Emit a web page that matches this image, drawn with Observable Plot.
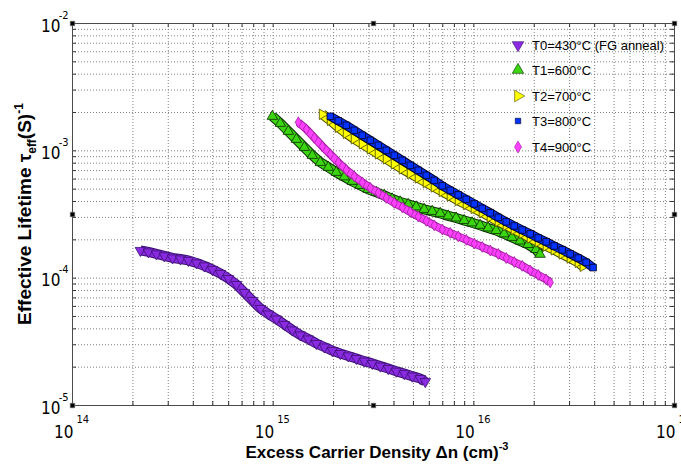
<!DOCTYPE html>
<html><head><meta charset="utf-8">
<script src="https://cdn.jsdelivr.net/npm/d3@7"></script>
<script src="https://cdn.jsdelivr.net/npm/@observablehq/plot@0.6"></script>
<style>
html,body{margin:0;padding:0;background:#fff;}
#chart{position:relative;width:681px;height:467px;overflow:hidden;}
</style></head><body><div id="chart"></div>
<script>
// ---- data ----
const seriesNames = ["T0=430°C (FG anneal)", "T1=600°C", "T2=700°C", "T3=800°C", "T4=900°C"];

const t0X = [2.18e14,2.39e14,2.62e14,2.87e14,3.15e14,3.45e14,3.78e14,4.15e14,4.54e14,4.98e14,5.46e14,5.98e14,6.56e14,7.19e14,7.88e14,8.64e14,9.47e14,1.038e15,1.137e15,1.246e15,1.366e15,1.497e15,1.641e15,1.799e15,1.971e15,2.161e15,2.368e15,2.596e15,2.846e15,3.119e15,3.419e15,3.747e15,4.107e15,4.502e15,4.934e15,5.408e15,5.73e15];
const t0Y = [1.651e-4,1.607e-4,1.550e-4,1.495e-4,1.441e-4,1.415e-4,1.378e-4,1.317e-4,1.247e-4,1.171e-4,1.089e-4,9.94e-5,8.92e-5,7.72e-5,6.68e-5,5.78e-5,5.23e-5,4.78e-5,4.33e-5,3.92e-5,3.58e-5,3.33e-5,3.07e-5,2.88e-5,2.70e-5,2.56e-5,2.45e-5,2.34e-5,2.23e-5,2.14e-5,2.04e-5,1.95e-5,1.86e-5,1.78e-5,1.70e-5,1.63e-5,1.54e-5];

const t1X = [9.91e14,1.086e15,1.190e15,1.305e15,1.430e15,1.567e15,1.718e15,1.883e15,2.063e15,2.262e15,2.479e15,2.717e15,2.978e15,3.264e15,3.577e15,3.920e15,4.297e15,4.709e15,5.161e15,5.657e15,6.200e15,6.795e15,7.447e15,8.162e15,8.945e15,9.804e15,1.0745e16,1.178e16,1.291e16,1.415e16,1.550e16,1.699e16,1.862e16,2.041e16,2.137e16];
const t1Y = [1.867e-3,1.645e-3,1.423e-3,1.231e-3,1.065e-3,9.22e-4,8.12e-4,7.42e-4,6.78e-4,6.25e-4,5.76e-4,5.36e-4,4.98e-4,4.72e-4,4.47e-4,4.19e-4,3.97e-4,3.80e-4,3.63e-4,3.47e-4,3.35e-4,3.23e-4,3.08e-4,2.97e-4,2.84e-4,2.72e-4,2.60e-4,2.48e-4,2.37e-4,2.23e-4,2.09e-4,1.96e-4,1.84e-4,1.68e-4,1.54e-4];

const t2X = [1.758e15,1.927e15,2.112e15,2.315e15,2.537e15,2.781e15,3.048e15,3.341e15,3.662e15,4.014e15,4.400e15,4.823e15,5.286e15,5.794e15,6.351e15,6.961e15,7.630e15,8.363e15,9.167e15,1.0048e16,1.1013e16,1.2072e16,1.3232e16,1.4503e16,1.5897e16,1.7425e16,1.910e16,2.0935e16,2.295e16,2.515e16,2.757e16,3.022e16,3.312e16,3.506e16];
const t2Y = [1.936e-3,1.737e-3,1.530e-3,1.373e-3,1.243e-3,1.135e-3,1.037e-3,9.47e-4,8.65e-4,7.90e-4,7.22e-4,6.65e-4,6.13e-4,5.65e-4,5.21e-4,4.80e-4,4.43e-4,4.08e-4,3.80e-4,3.53e-4,3.28e-4,3.03e-4,2.79e-4,2.60e-4,2.41e-4,2.25e-4,2.07e-4,1.93e-4,1.79e-4,1.67e-4,1.55e-4,1.44e-4,1.33e-4,1.24e-4];

const t3X = [1.927e15,2.112e15,2.315e15,2.537e15,2.781e15,3.048e15,3.341e15,3.662e15,4.014e15,4.400e15,4.823e15,5.286e15,5.794e15,6.351e15,6.961e15,7.630e15,8.363e15,9.167e15,1.0048e16,1.1013e16,1.2072e16,1.3232e16,1.4503e16,1.5897e16,1.7425e16,1.910e16,2.0935e16,2.295e16,2.515e16,2.757e16,3.022e16,3.312e16,3.631e16,3.932e16];
const t3Y = [1.867e-3,1.721e-3,1.586e-3,1.449e-3,1.324e-3,1.209e-3,1.105e-3,1.009e-3,9.22e-4,8.42e-4,7.69e-4,7.03e-4,6.42e-4,5.86e-4,5.31e-4,4.89e-4,4.51e-4,4.16e-4,3.83e-4,3.53e-4,3.26e-4,3.00e-4,2.77e-4,2.57e-4,2.39e-4,2.23e-4,2.07e-4,1.93e-4,1.79e-4,1.67e-4,1.55e-4,1.44e-4,1.33e-4,1.21e-4];

const t4X = [1.335e15,1.464e15,1.604e15,1.758e15,1.927e15,2.112e15,2.315e15,2.537e15,2.781e15,3.048e15,3.341e15,3.662e15,4.014e15,4.400e15,4.823e15,5.286e15,5.794e15,6.351e15,6.961e15,7.630e15,8.363e15,9.167e15,1.0048e16,1.1013e16,1.2072e16,1.3232e16,1.4503e16,1.5897e16,1.7425e16,1.910e16,2.0935e16,2.295e16,2.402e16];
const t4Y = [1.675e-3,1.476e-3,1.265e-3,1.085e-3,9.39e-4,8.12e-4,7.09e-4,6.30e-4,5.65e-4,5.12e-4,4.68e-4,4.27e-4,3.90e-4,3.60e-4,3.31e-4,3.05e-4,2.82e-4,2.60e-4,2.41e-4,2.27e-4,2.13e-4,2.00e-4,1.87e-4,1.76e-4,1.65e-4,1.55e-4,1.44e-4,1.34e-4,1.25e-4,1.15e-4,1.06e-4,9.77e-5,9.25e-5];

const xDomain = [1e14, 1e17];
const yDomain = [1e-5, 1e-2];
const xDecades = [1e14, 1e15, 1e16, 1e17];
const xExponents = ["14", "15", "16", "17"];
const yDecades = [1e-5, 1e-4, 1e-3, 1e-2];
const yExponents = ["-5", "-4", "-3", "-2"];
const xLabel = "Excess Carrier Density \u0394n (cm)";
const xLabelSup = "-3";
const yLabelMain = "Effective Lifetime \u03c4";
const yLabelSub = "eff";
const yLabelAfter = "(S)";
const yLabelSup = "-1";

// ---- styling ----
const W = 681, H = 467;
const M = {left: 72, right: 7, top: 23, bottom: 62};
const plotW = W - M.left - M.right, plotH = H - M.top - M.bottom;
const TICKFONT = "'Liberation Sans Narrow','Arial Narrow','DejaVu Sans Condensed',sans-serif";
const LABFONT = "'Liberation Sans',Arial,sans-serif";

const sqrt3 = Math.sqrt(3);
const triDown = {draw(c, size) { const y = -Math.sqrt(size / (sqrt3 * 3)); c.moveTo(0, -y * 2); c.lineTo(-sqrt3 * y, y); c.lineTo(sqrt3 * y, y); c.closePath(); }};
const triUp = {draw(c, size) { const y = -Math.sqrt(size / (sqrt3 * 3)); c.moveTo(0, y * 2); c.lineTo(-sqrt3 * y, -y); c.lineTo(sqrt3 * y, -y); c.closePath(); }};
const triRight = {draw(c, size) { const y = -Math.sqrt(size / (sqrt3 * 3)); c.moveTo(-y * 2, 0); c.lineTo(y, -sqrt3 * y); c.lineTo(y, sqrt3 * y); c.closePath(); }};

const styles = [
  {symbol: triDown, fill: "#8a2be2", stroke: "#3a1070", r: 3.9, band: 8},
  {symbol: triUp, fill: "#3cd610", stroke: "#0a2a00", r: 3.9, band: 8},
  {symbol: triRight, fill: "#ffff00", stroke: "#4a4a00", r: 3.9, band: 8},
  {symbol: "square", fill: "#0033ff", stroke: "#000020", r: 3.7, band: 7},
  {symbol: "diamond", fill: "#ff40ff", stroke: "#a020a0", r: 3.3, band: 6}
];
const seriesX = [t0X, t1X, t2X, t3X, t4X];
const seriesY = [t0Y, t1Y, t2Y, t3Y, t4Y];
const rows = seriesX.map((X, s) => X.map((x, i) => ({x, y: seriesY[s][i]})));

const xGrid = d3.scaleLog().domain(xDomain).ticks();
const yGrid = d3.scaleLog().domain(yDomain).ticks();

const gridStyle = {stroke: "#808080", strokeOpacity: 1, strokeDasharray: "1,2", strokeWidth: 1};
const tickStyle = {stroke: "#333", strokeWidth: 1};

const seriesMarks = rows.flatMap((data, s) => {
  const st = styles[s];
  return [
    Plot.line(data, {x: "x", y: "y", stroke: st.stroke, strokeWidth: st.band + 2, strokeLinecap: "butt", strokeLinejoin: "round"}),
    Plot.line(data, {x: "x", y: "y", stroke: st.fill, strokeWidth: st.band, strokeLinecap: "butt", strokeLinejoin: "round"}),
    Plot.dot(data, {x: "x", y: "y", symbol: st.symbol, r: st.r, fill: st.fill, stroke: st.stroke, strokeWidth: 0.8})
  ];
});

const plot = Plot.plot({
  width: W, height: H,
  marginLeft: M.left, marginRight: M.right, marginTop: M.top, marginBottom: M.bottom,
  style: {background: "#fff", overflow: "visible"},
  x: {type: "log", domain: xDomain, axis: null},
  y: {type: "log", domain: yDomain, axis: null},
  marks: [
    Plot.gridX(xGrid, gridStyle),
    Plot.gridY(yGrid, gridStyle),
    Plot.tickX(xGrid, {x: d => d, insetTop: plotH - 4, ...tickStyle}),
    Plot.tickX(xGrid, {x: d => d, insetBottom: plotH - 4, ...tickStyle}),
    Plot.tickY(yGrid, {y: d => d, insetRight: plotW - 4, ...tickStyle}),
    Plot.tickY(yGrid, {y: d => d, insetLeft: plotW - 4, ...tickStyle}),
    Plot.frame({stroke: "#4a4a4a", strokeWidth: 1}),
    ...seriesMarks,
    Plot.text(xDecades, {x: d => d, text: () => "10", frameAnchor: "bottom", lineAnchor: "bottom", textAnchor: "end", dx: 1, dy: 32, fontSize: 17, fontFamily: TICKFONT, fill: "#000"}),
    Plot.text(xDecades, {x: d => d, text: (d, i) => xExponents[i], frameAnchor: "bottom", lineAnchor: "bottom", textAnchor: "start", dx: 4, dy: 17, fontSize: 11, fontFamily: TICKFONT, fill: "#000"}),
    Plot.text(yDecades, {y: d => d, text: () => "10", frameAnchor: "left", lineAnchor: "bottom", textAnchor: "end", dx: -12, dy: 8, fontSize: 17, fontFamily: TICKFONT, fill: "#000"}),
    Plot.text(yDecades, {y: d => d, text: (d, i) => yExponents[i], frameAnchor: "left", lineAnchor: "bottom", textAnchor: "end", dx: -4, dy: -5, fontSize: 11, fontFamily: TICKFONT, fill: "#000"}),
    ...["top-left", "top", "top-right", "left", "right", "bottom-left", "bottom", "bottom-right"].map(a =>
      Plot.dot([0], {frameAnchor: a, symbol: "square", r: 2.6, fill: "#000", stroke: "#888", strokeWidth: 0.6}))
  ]
});

const svg = d3.select(plot);
// x axis label
const xl = svg.append("text")
  .attr("x", M.left + plotW / 2 + 4).attr("y", 458)
  .attr("text-anchor", "middle").attr("font-family", LABFONT)
  .attr("font-weight", "bold").attr("font-size", 17).attr("fill", "#000");
xl.append("tspan").text(xLabel);
xl.append("tspan").attr("font-size", 11).attr("dy", -8).text(xLabelSup);

// y axis label
const yl = svg.append("text")
  .attr("transform", `translate(31,${M.top + plotH / 2}) rotate(-90)`)
  .attr("text-anchor", "middle").attr("font-family", LABFONT)
  .attr("font-weight", "bold").attr("font-size", 19).attr("fill", "#000");
yl.append("tspan").text(yLabelMain);
yl.append("tspan").attr("font-size", 12).attr("dy", 5).text(yLabelSub);
yl.append("tspan").attr("dy", -5).text(yLabelAfter);
yl.append("tspan").attr("font-size", 12).attr("dy", -8).text(yLabelSup);

// legend
const legendY = [45, 70, 96, 121, 147];
const lg = svg.append("g").attr("text-anchor", "start");
seriesNames.forEach((name, i) => {
  const st = styles[i];
  const type = typeof st.symbol === "string" ? (st.symbol === "square" ? d3.symbolSquare : d3.symbolDiamond) : st.symbol;
  const rr = st.symbol === "square" ? st.r - 0.6 : st.r + 0.4;
  lg.append("path")
    .attr("transform", `translate(518,${legendY[i]})`)
    .attr("d", d3.symbol().type(type).size(Math.PI * rr * rr)())
    .attr("fill", st.fill).attr("stroke", st.stroke).attr("stroke-width", 0.6);
  lg.append("text").attr("x", 532).attr("y", legendY[i] + 5)
    .attr("text-anchor", "start")
    .attr("font-family", LABFONT).attr("font-size", 13).attr("fill", "#000")
    .text(name);
});

document.getElementById("chart").appendChild(plot);
</script>
</body></html>
